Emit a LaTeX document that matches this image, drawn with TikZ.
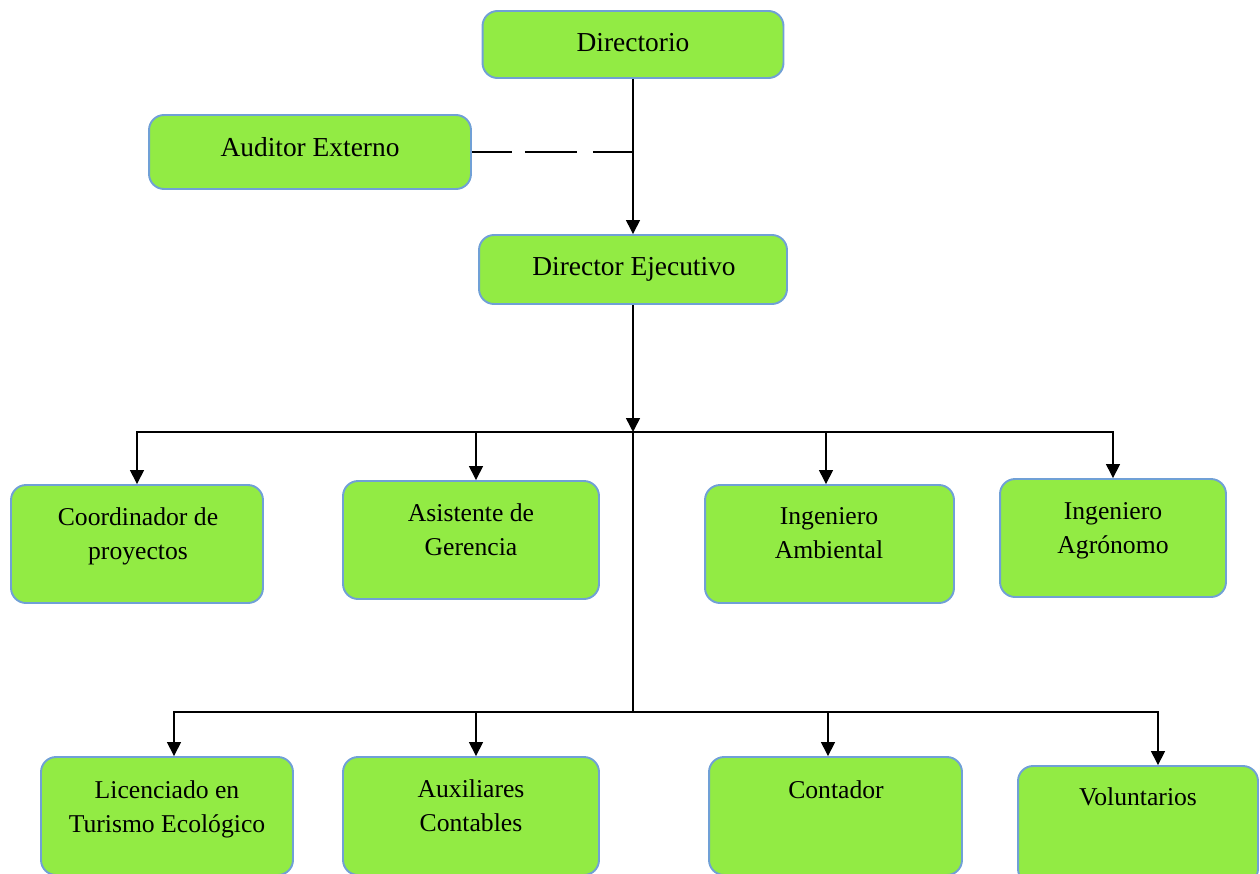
\documentclass[tikz,border=0pt]{standalone}
\usepackage{fontspec}
\setmainfont{Liberation Serif}
\usetikzlibrary{arrows.meta,positioning}
\definecolor{boxgreen}{RGB}{146,235,68}
\definecolor{boxedge}{RGB}{112,160,214}
\begin{document}
\begin{tikzpicture}[x=0.02cm,y=-0.02cm,
    unit/.style={draw=boxedge,fill=boxgreen,line width=1.1pt,rounded corners=0.3cm,inner sep=0pt},
    lbl/.style={font=\fontsize{15.6}{19.4}\selectfont,align=center,inner sep=0pt,text height=10.9pt,text depth=3.1pt},
    sublbl/.style={lbl,font=\fontsize{14.6}{19.4}\selectfont},
    link/.style={line width=0.8pt},
    conn/.style={line width=0.8pt,-{Triangle[width=0.28cm,length=0.28cm]}}]
  \useasboundingbox (0,0) rectangle (1260,873);
  % boxes
  \node[unit,minimum width=6.02cm,minimum height=1.34cm] (dir) at (633,44.5) {};
  \node[unit,minimum width=6.44cm,minimum height=1.48cm] (aud) at (310,152) {};
  \node[unit,minimum width=6.16cm,minimum height=1.38cm] (exec) at (633,269.5) {};
  \node[unit,minimum width=5.04cm,minimum height=2.36cm] (coord) at (137,544) {};
  \node[unit,minimum width=5.12cm,minimum height=2.36cm] (asis) at (471,540) {};
  \node[unit,minimum width=4.98cm,minimum height=2.36cm] (amb) at (829.5,544) {};
  \node[unit,minimum width=4.52cm,minimum height=2.36cm] (agro) at (1113,538) {};
  \node[unit,minimum width=5.04cm,minimum height=2.36cm] (lic) at (167,816) {};
  \node[unit,minimum width=5.12cm,minimum height=2.36cm] (aux) at (471,816) {};
  \node[unit,minimum width=5.06cm,minimum height=2.36cm] (cont) at (835.5,816) {};
  \node[unit,minimum width=4.80cm,minimum height=2.36cm] (vol) at (1138,825) {};
  % texts (last line on the given y)
  \node[lbl] (dirtxt) at (633,45) {Directorio};
  \node[lbl] (audtxt) at (310,150) {Auditor Externo};
  \node[lbl] (exectxt) at (634,269) {Director Ejecutivo};
  \node[sublbl] (coordtxt) at (138,553) {Coordinador de\\proyectos};
  \node[sublbl] (asistxt) at (471,549) {Asistente de\\Gerencia};
  \node[sublbl] (ambtxt) at (829,552) {Ingeniero\\Ambiental};
  \node[sublbl] (agrotxt) at (1113,547) {Ingeniero\\Agrónomo};
  \node[sublbl] (lictxt) at (167,826) {Licenciado en\\Turismo Ecológico};
  \node[sublbl] (auxtxt) at (471,825) {Auxiliares\\Contables};
  \node[sublbl] (conttxt) at (836,792) {Contador};
  \node[sublbl] (voltxt) at (1138,799) {Voluntarios};
  % connectors
  \coordinate (tap) at (dir.south |- aud.east);
  \coordinate (row1) at (dir.south |- 0,432);
  \coordinate (row2) at (dir.south |- 0,712);
  \draw[link,dash pattern=on 0.8cm off 0.26cm on 1.04cm off 0.32cm on 0.9cm off 0cm] (aud.east) -- (tap);
  \draw[conn] (dir) -- (exec);
  \draw[conn] (exec) -- (row1);
  \draw[link] (row1) -- (row2);
  \draw[conn] (row1) -| (coord);
  \draw[conn] (row1) -| ([xshift=0.1cm]asis.north);
  \draw[conn] (row1) -| ([xshift=-0.07cm]amb.north);
  \draw[conn] (row1) -| (agro);
  \draw[conn] (row2) -| ([xshift=0.14cm]lic.north);
  \draw[conn] (row2) -| ([xshift=0.1cm]aux.north);
  \draw[conn] (row2) -| ([xshift=-0.15cm]cont.north);
  \draw[conn] (row2) -| ([xshift=0.4cm]vol.north);
\end{tikzpicture}
\end{document}
